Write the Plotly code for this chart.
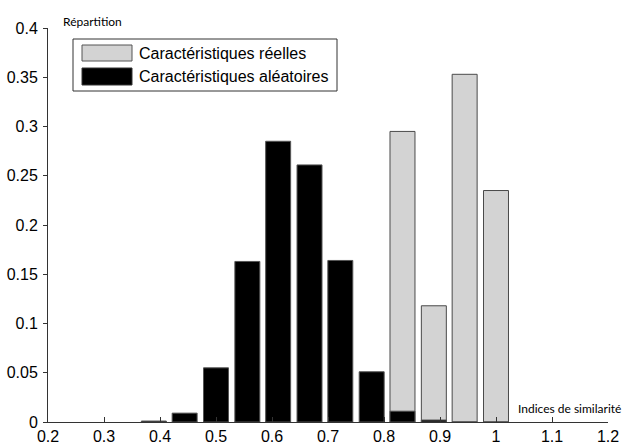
import plotly.graph_objects as go

# Data
bin_centers = [0.389, 0.444, 0.500, 0.556, 0.611, 0.667, 0.722, 0.778, 0.833, 0.889, 0.944, 1.000]
reelles =     [0.0,   0.0,   0.0,   0.0,   0.0,   0.0,   0.0,   0.0,   0.295, 0.118, 0.353, 0.235]
aleatoires =  [0.001, 0.009, 0.055, 0.163, 0.285, 0.261, 0.164, 0.051, 0.011, 0.002, 0.0,   0.0]
legend_labels = ["Caractéristiques réelles", "Caractéristiques aléatoires"]
x_ticks = [0.2, 0.3, 0.4, 0.5, 0.6, 0.7, 0.8, 0.9, 1.0, 1.1, 1.2]
y_ticks = [0, 0.05, 0.1, 0.15, 0.2, 0.25, 0.3, 0.35, 0.4]

W, H = 626, 446
L, R, T, B = 48, 18, 28, 24
PW, PH = W - L - R, H - T - B

def px(x):
    return (x - L) / PW

def py(y):
    return (H - B - y) / PH

BAR_W = 0.0446
GRAY = "#d3d3d3"
EDGE = "#4a4a4a"
FONT = "Liberation Sans, Arial, sans-serif"
FS = 16

fig = go.Figure()
fig.add_trace(go.Bar(x=bin_centers, y=reelles, width=[BAR_W] * len(bin_centers),
                     marker=dict(color=GRAY, line=dict(color=EDGE, width=1)),
                     name=legend_labels[0], showlegend=False))
fig.add_trace(go.Bar(x=bin_centers, y=aleatoires, width=[BAR_W] * len(bin_centers),
                     marker=dict(color="black", line=dict(color="#555555", width=1)),
                     name=legend_labels[1], showlegend=False))

# Custom legend (box + swatches + labels)
shapes = [
    dict(type="rect", xref="paper", yref="paper", x0=px(73), x1=px(337), y0=py(91), y1=py(39),
         line=dict(color="#333333", width=1), fillcolor="white", layer="above"),
    dict(type="rect", xref="paper", yref="paper", x0=px(82), x1=px(132), y0=py(61), y1=py(45),
         line=dict(color="#555555", width=1), fillcolor=GRAY, layer="above"),
    dict(type="rect", xref="paper", yref="paper", x0=px(82), x1=px(132), y0=py(85), y1=py(68),
         line=dict(color="#333333", width=1), fillcolor="black", layer="above"),
]
annotations = [
    dict(text=legend_labels[0], xref="paper", yref="paper", x=px(137), y=py(53),
         xanchor="left", yanchor="middle", showarrow=False, font=dict(family=FONT, size=FS, color="black")),
    dict(text=legend_labels[1], xref="paper", yref="paper", x=px(137), y=py(76),
         xanchor="left", yanchor="middle", showarrow=False, font=dict(family=FONT, size=FS, color="black")),
    dict(text="Répartition", xref="paper", yref="paper", x=px(61), y=py(21),
         xanchor="left", yanchor="middle", showarrow=False, font=dict(family="Lato, Open Sans, sans-serif", size=12, color="black")),
    dict(text="Indices de similarité", xref="paper", yref="paper", x=px(516), y=py(408),
         xanchor="left", yanchor="middle", showarrow=False, font=dict(family="Lato, Open Sans, sans-serif", size=12, color="black")),
]

fig.update_layout(
    width=W, height=H,
    margin=dict(l=L, r=R, t=T, b=B, pad=0, autoexpand=False),
    paper_bgcolor="white", plot_bgcolor="white",
    barmode="overlay",
    showlegend=False,
    shapes=shapes,
    annotations=annotations,
    font=dict(family=FONT, size=FS, color="black"),
    xaxis=dict(range=[0.2, 1.2], tickvals=x_ticks, ticktext=[f"{v:g}" for v in x_ticks],
               showgrid=False, zeroline=False, showline=True, linecolor="#333333", linewidth=1,
               ticks="inside", ticklen=5, tickcolor="#333333", tickfont=dict(size=FS),
               ticklabelstandoff=0, automargin=False),
    yaxis=dict(range=[0, 0.4], tickvals=y_ticks, ticktext=[f"{v:g}" for v in y_ticks],
               showgrid=False, zeroline=False, showline=True, linecolor="#333333", linewidth=1,
               ticks="outside", ticklen=4, tickcolor="#333333", tickfont=dict(size=FS),
               ticklabelstandoff=2, automargin=False),
)

fig.write_html("out.html")
